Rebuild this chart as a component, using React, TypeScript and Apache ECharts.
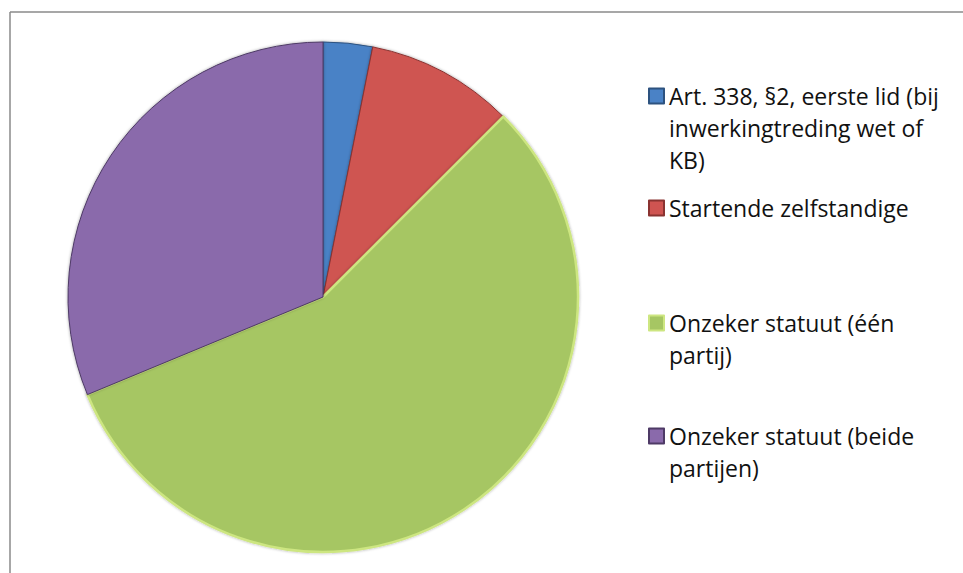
import React, { useEffect, useRef } from "react";
import * as echarts from "echarts";

const categories = [
  "Art. 338, §2, eerste lid (bij inwerkingtreding wet of KB)",
  "Startende zelfstandige",
  "Onzeker statuut (één partij)",
  "Onzeker statuut (beide partijen)",
];
const legendLines = [
  ["Art. 338, §2, eerste lid (bij", "inwerkingtreding wet of", "KB)"],
  ["Startende zelfstandige"],
  ["Onzeker statuut (één", "partij)"],
  ["Onzeker statuut (beide", "partijen)"],
];
const values = [5, 15, 90, 50];
const colors = ["#4a82c6", "#cf5451", "#a6c663", "#8a6aab"];
const edgeColors = ["#2d527f", "#8a3331", "#cde681", "#4e3a66"];

const LINE_H = 32;
const legendCenters = [96, 208, 323, 436];

export default function App() {
  const ref = useRef<HTMLDivElement>(null);
  useEffect(() => {
    if (!ref.current) return;
    const chart = echarts.init(ref.current, null, { renderer: "svg" });
    const legends = categories.map((name, i) => {
      const n = legendLines[i].length;
      const blanks: string[] = [];
      for (let k = 0; k < n - 1; k++) blanks.push(" ");
      const text = blanks.concat(legendLines[i]).join("\n");
      return {
        orient: "vertical",
        left: 648,
        top: legendCenters[i] - ((2 * n - 1) * LINE_H) / 2,
        padding: 0,
        itemWidth: 15,
        itemHeight: 15,
        selectedMode: false,
        data: [{ name, icon: "rect" }],
        formatter: () => text,
        textStyle: {
          fontFamily: "Open Sans",
          fontSize: 23,
          color: "#111",
          lineHeight: LINE_H,
        },
      };
    });
    chart.setOption({
      animation: false,
      backgroundColor: "#ffffff",
      color: colors,
      legend: legends,
      graphic: [
        {
          type: "line",
          shape: { x1: 10, y1: 12, x2: 963, y2: 12 },
          style: { stroke: "#8a8a8a", lineWidth: 1.5 },
        },
        {
          type: "line",
          shape: { x1: 10, y1: 12, x2: 10, y2: 573 },
          style: { stroke: "#8a8a8a", lineWidth: 1.5 },
        },
      ],
      series: [
        {
          type: "pie",
          center: [323, 297],
          radius: 255,
          startAngle: 90,
          clockwise: true,
          label: { show: false },
          labelLine: { show: false },
          emphasis: { disabled: true },
          silent: true,
          data: categories.map((name, i) => ({
            name,
            value: values[i],
            itemStyle: {
              color: colors[i],
              borderColor: edgeColors[i],
              borderWidth: i === 2 ? 2.5 : 1,
              shadowBlur: 3,
              shadowColor: "rgba(0,0,0,0.35)",
            },
          })),
        },
      ],
    });
    return () => chart.dispose();
  }, []);
  return (
    <div
      ref={ref}
      style={{ position: "fixed", left: 0, top: 0, width: 963, height: 573 }}
    />
  );
}
